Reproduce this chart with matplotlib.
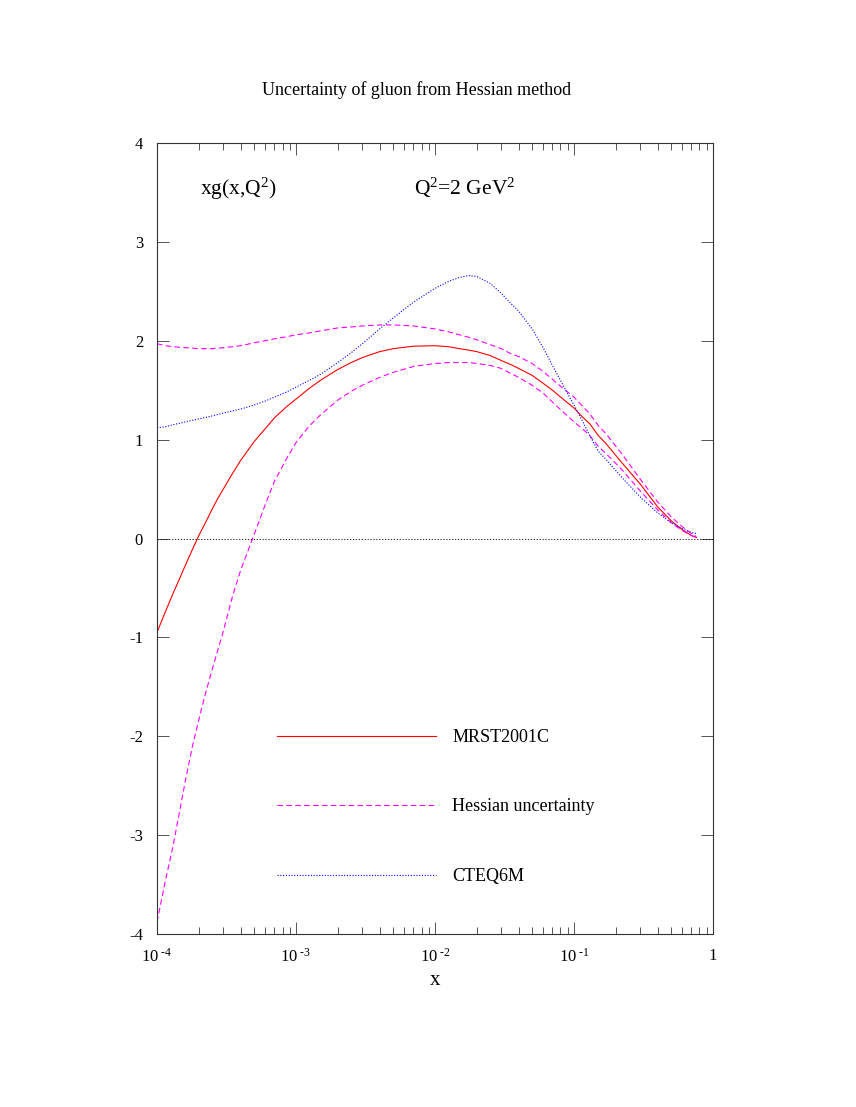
import matplotlib
matplotlib.use("Agg")
import matplotlib.pyplot as plt
from matplotlib.ticker import FixedLocator, FixedFormatter, LogLocator, NullFormatter


# DATA

x_grid = [1e-4, 1.15e-4, 1.3e-4, 1.45e-4, 1.6e-4, 1.8e-4, 2e-4, 2.25e-4,
          2.5e-4, 2.75e-4, 3e-4, 3.5e-4, 4e-4, 4.5e-4, 5e-4, 6e-4, 7e-4,
          8.5e-4, 1e-3, 1.25e-3, 1.5e-3, 2e-3, 2.5e-3, 3e-3, 4e-3, 5e-3,
          7e-3, 1e-2, 1.25e-2, 1.5e-2, 1.75e-2, 2e-2, 2.5e-2, 3e-2, 3.5e-2,
          4e-2, 5e-2, 6e-2, 7e-2, 8.5e-2, 0.1, 0.115, 0.13, 0.15, 0.17,
          0.22, 0.3, 0.4, 0.5, 0.6, 0.7, 0.76]

mrst2001c = [-0.95, -0.74, -0.56, -0.41, -0.27, -0.11, 0.03, 0.17,
             0.30, 0.41, 0.50, 0.66, 0.79, 0.89, 0.98, 1.11, 1.22,
             1.33, 1.41, 1.52, 1.60, 1.71, 1.78, 1.83, 1.89, 1.92,
             1.945, 1.95, 1.94, 1.92, 1.905, 1.89, 1.85, 1.80, 1.76,
             1.72, 1.65, 1.57, 1.50, 1.40, 1.32, 1.23, 1.16, 1.04, 0.96,
             0.77, 0.55, 0.32, 0.18, 0.09, 0.03, 0.01]

hessian_upper = [1.97, 1.95, 1.94, 1.935, 1.93, 1.925, 1.92, 1.92,
                 1.92, 1.925, 1.93, 1.94, 1.95, 1.965, 1.98, 2.00, 2.02,
                 2.04, 2.06, 2.08, 2.10, 2.13, 2.14, 2.15, 2.16, 2.16,
                 2.15, 2.12, 2.09, 2.06, 2.035, 2.01, 1.96, 1.92, 1.87,
                 1.84, 1.77, 1.69, 1.61, 1.51, 1.43, 1.34, 1.26, 1.14, 1.06,
                 0.86, 0.60, 0.37, 0.22, 0.12, 0.05, 0.02]

hessian_lower = [-3.88, -3.46, -3.12, -2.77, -2.45, -2.10, -1.83, -1.55,
                 -1.32, -1.12, -0.94, -0.58, -0.32, -0.13, 0.04, 0.34, 0.58,
                 0.80, 0.97, 1.14, 1.25, 1.40, 1.49, 1.55, 1.63, 1.68,
                 1.74, 1.77, 1.78, 1.78, 1.78, 1.77, 1.75, 1.72, 1.67,
                 1.63, 1.55, 1.47, 1.38, 1.27, 1.18, 1.11, 1.04, 0.93, 0.86,
                 0.70, 0.48, 0.29, 0.16, 0.08, 0.03, 0.01]

cteq6m = [1.12, 1.13, 1.15, 1.165, 1.18, 1.195, 1.21, 1.225,
          1.24, 1.255, 1.27, 1.29, 1.31, 1.33, 1.35, 1.39, 1.43,
          1.48, 1.53, 1.60, 1.66, 1.78, 1.88, 1.97, 2.12, 2.23,
          2.39, 2.53, 2.60, 2.64, 2.66, 2.65, 2.58, 2.48, 2.38,
          2.30, 2.12, 1.93, 1.75, 1.53, 1.35, 1.19, 1.04, 0.88, 0.80,
          0.62, 0.42, 0.26, 0.16, 0.10, 0.06, 0.05]

y_ticks = [-4, -3, -2, -1, 0, 1, 2, 3, 4]
y_tick_labels = ["-4", "-3", "-2", "-1", "0", "1", "2", "3", "4"]
x_ticks = [1e-4, 1e-3, 1e-2, 1e-1, 1]
x_tick_labels = [r"$10^{\ \text{-4}}$", r"$10^{\ \text{-3}}$",
                 r"$10^{\ \text{-2}}$", r"$10^{\ \text{-1}}$", "1"]


# STYLE

plt.rcParams["font.family"] = ["Liberation Serif", "DejaVu Serif"]
plt.rcParams["mathtext.fontset"] = "custom"
plt.rcParams["mathtext.rm"] = "Liberation Serif"
plt.rcParams["mathtext.it"] = "Liberation Serif"
plt.rcParams["axes.unicode_minus"] = False


def main() -> None:
    fig = plt.figure(figsize=(8.56, 11.07), dpi=100)
    ax = fig.add_axes([0.1834, 0.1563, 0.6495, 0.7145])

    ax.plot(x_grid, mrst2001c, color="#ff0000", lw=0.8, label="MRST2001C")
    ax.plot(x_grid, hessian_upper, color="#ff00ff", lw=0.8,
            dashes=(5, 3), label="Hessian uncertainty")
    ax.plot(x_grid, hessian_lower, color="#ff00ff", lw=0.8, dashes=(5, 3))
    ax.plot(x_grid, cteq6m, color="#0000ff", lw=0.8,
            dashes=(1, 1.5), label="CTEQ6M")
    ax.axhline(0, color="black", lw=0.6, dashes=(1.5, 2))

    ax.set_xscale("log")
    ax.set_xlim(1e-4, 1)
    ax.set_ylim(-4, 4)

    ax.xaxis.set_major_locator(FixedLocator(x_ticks))
    ax.xaxis.set_major_formatter(FixedFormatter(x_tick_labels))
    ax.xaxis.set_minor_locator(LogLocator(base=10, subs=range(2, 10)))
    ax.xaxis.set_minor_formatter(NullFormatter())
    ax.yaxis.set_major_locator(FixedLocator(y_ticks))
    ax.yaxis.set_major_formatter(FixedFormatter(y_tick_labels))

    ax.tick_params(which="both", direction="in", top=True, right=True,
                   color="#555555", width=0.7, labelsize=12)
    ax.tick_params(which="major", length=8.5)
    ax.tick_params(which="minor", length=5)
    ax.tick_params(axis="y", pad=10)
    ax.tick_params(axis="x", pad=10)
    for spine in ax.spines.values():
        spine.set_linewidth(0.8)
        spine.set_color("#333333")

    ax.set_xlabel("x", fontsize=15, labelpad=4)
    fig.suptitle("Uncertainty of gluon from Hessian method", x=0.487, y=0.927, fontsize=13)

    ax.text(0.078, 0.935, r"xg(x,Q$^2$)", transform=ax.transAxes, fontsize=15.5)
    ax.text(0.463, 0.935, r"Q$^2$=2 GeV$^2$", transform=ax.transAxes, fontsize=15.5)

    ax.legend(loc="upper left", bbox_to_anchor=(0.216, 0.259), frameon=False,
              fontsize=13, handlelength=8.8, handletextpad=0.9,
              labelspacing=2.9, borderpad=0, borderaxespad=0)

    fig.savefig("out.png", dpi=100)
    plt.close(fig)


if __name__ == "__main__":
    main()
